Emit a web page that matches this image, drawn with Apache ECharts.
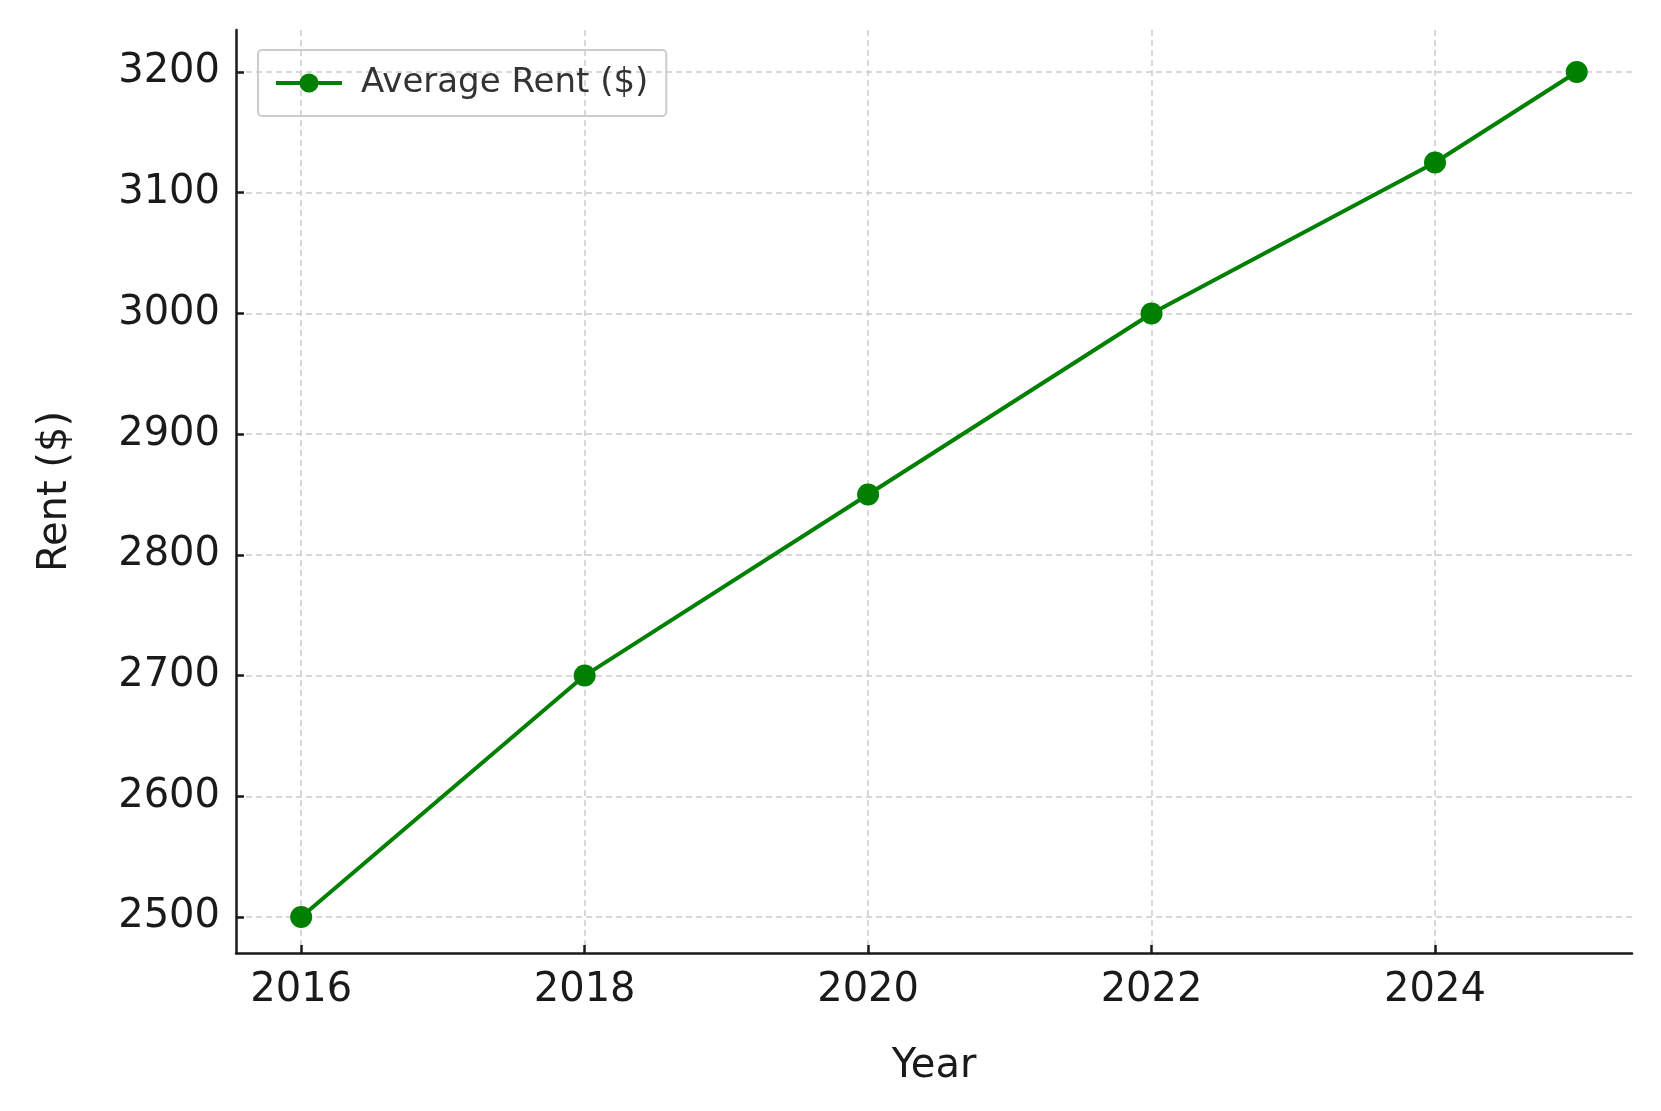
<!DOCTYPE html><html><head><meta charset="utf-8">
<script src="https://cdn.jsdelivr.net/npm/echarts@6/dist/echarts.min.js"></script>
<style>html,body{margin:0;background:#fff}#c{width:1661px;height:1111px}</style></head><body><div id="c"></div>
<script>
const years=[2016,2018,2020,2022,2024,2025];
const rent=[2500,2700,2850,3000,3125,3200];
const xTicks=[2016,2018,2020,2022,2024];
const yTicks=[2500,2600,2700,2800,2900,3000,3100,3200];
const ch=echarts.init(document.getElementById('c'));
const ff='DejaVu Sans';
ch.setOption({
 animation:false,
 grid:{left:236,right:29,top:30,bottom:158},
 legend:{left:258,top:50,itemWidth:66,itemHeight:24,itemGap:10,padding:[16,18,16,16],
  borderColor:'#ccc',borderWidth:2,borderRadius:4,lineStyle:{width:4},
  textStyle:{fontFamily:ff,fontSize:34,color:'#333',padding:[0,0,0,14]},data:['Average Rent ($)']},
 xAxis:{type:'value',min:2015.54,max:2025.39,name:'Year',nameLocation:'middle',nameGap:94,
  nameTextStyle:{fontFamily:ff,fontSize:40,color:'#1a1a1a'},
  axisLine:{lineStyle:{color:'#1a1a1a',width:2.5}},
  axisTick:{inside:true,length:8,customValues:xTicks,lineStyle:{color:'#1a1a1a',width:2.5}},
  axisLabel:{customValues:xTicks,fontFamily:ff,fontSize:40,color:'#1a1a1a',margin:18,formatter:v=>String(v)},
  splitLine:{show:true,lineStyle:{type:[6,4],color:'#ccc',width:1.5}}},
 yAxis:{type:'value',min:2470.2,max:3234.8,name:'Rent ($)',nameLocation:'middle',nameGap:160,
  nameTextStyle:{fontFamily:ff,fontSize:40,color:'#1a1a1a'},
  axisLine:{show:true,lineStyle:{color:'#1a1a1a',width:2.5}},
  axisTick:{show:true,inside:true,length:8,customValues:yTicks,lineStyle:{color:'#1a1a1a',width:2.5}},
  axisLabel:{customValues:yTicks,fontFamily:ff,fontSize:40,color:'#1a1a1a',margin:16,formatter:v=>String(v)},
  splitLine:{show:true,lineStyle:{type:[6,4],color:'#ccc',width:1.5}}},
 series:[{name:'Average Rent ($)',type:'line',data:years.map((y,i)=>[y,rent[i]]),
  symbol:'circle',symbolSize:22,lineStyle:{color:'#008000',width:4},itemStyle:{color:'#008000'}}]
});
</script></body></html>
